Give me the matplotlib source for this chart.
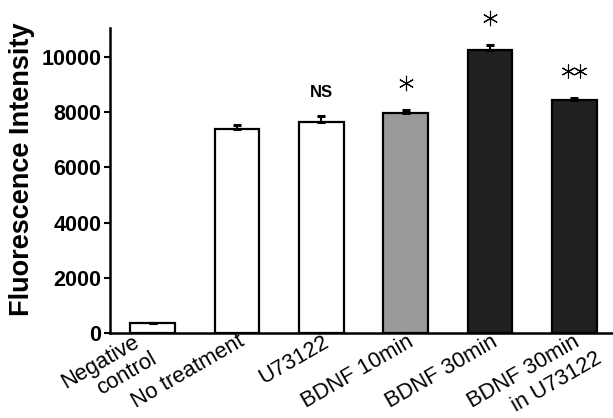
import numpy as np
import matplotlib.transforms as mtransforms
from matplotlib import pyplot as plt

plt.rcParams['font.family'] = ['Liberation Sans', 'DejaVu Sans']

labels = ["Negative\ncontrol", "No treatment", "U73122", "BDNF 10min", "BDNF 30min", "BDNF 30min\nin U73122"]
values = [350, 7400, 7650, 7990, 10250, 8450]
errors = [30, 150, 220, 100, 170, 60]
colors = ["white", "white", "white", "#9a9a9a", "#202020", "#202020"]
marks = ["", "", "NS", "*", "*", "**"]

fig = plt.figure(figsize=(6.13, 4.18), dpi=100)
ax = fig.add_axes([0.179, 0.203, 0.821, 0.730])

x = np.arange(len(values))
ax.bar(x, values, width=0.53, color=colors, edgecolor="black", linewidth=1.6,
       yerr=[np.zeros(len(errors)), errors], capsize=3,
       error_kw={"elinewidth": 1.5, "capthick": 2.2, "ecolor": "black"})

for i, m in enumerate(marks):
    top = values[i] + errors[i]
    if m == "NS":
        ax.text(x[i], top + 830, m, ha="center", va="center", fontsize=12, fontweight="bold")
    elif m:
        n = len(m)
        offs = np.arange(n) - (n - 1) / 2
        ax.plot(x[i] + offs * 0.14, [top + 980] * n, linestyle="none",
                marker=(6, 2, 0), markersize=11 if n == 1 else 10, markeredgewidth=0.8,
                color="black", clip_on=False)

ax.set_xlim(-0.51, 5.46)
ax.set_ylim(0, 11050)
ax.set_yticks([0, 2000, 4000, 6000, 8000, 10000])
ax.tick_params(axis="y", labelsize=15.5, width=1.5, length=4, pad=2)
for t in ax.get_yticklabels():
    t.set_fontweight("bold")

# x labels drawn by hand: two-line labels are placed like in the original
ax.set_xticks([])
first_dx = [-20, 1, 1, 1, 1, -2]      # pixel shift of the first line end
second_dx = [17, 0, 0, 0, 0, 23]      # second line relative to first
trans = ax.get_xaxis_transform()
for i, lab in enumerate(labels):
    for j, line in enumerate(lab.split("\n")):
        dx = first_dx[i] + j * second_dx[i]
        dy = 2 - j * 17
        off = mtransforms.ScaledTranslation(dx / 100, dy / 100, fig.dpi_scale_trans)
        ax.text(x[i], 0, line, transform=trans + off, rotation=30, rotation_mode="anchor",
                ha="right", va="top", fontsize=15.8, clip_on=False)

ax.set_ylabel("Fluorescence Intensity", fontsize=19.5, fontweight="bold")
ax.yaxis.set_label_coords(-0.149, 0.538)

ax.spines["top"].set_visible(False)
ax.spines["right"].set_visible(False)
ax.spines["left"].set_linewidth(1.8)
ax.spines["bottom"].set_linewidth(1.8)

plt.savefig("out.png", dpi=100)
